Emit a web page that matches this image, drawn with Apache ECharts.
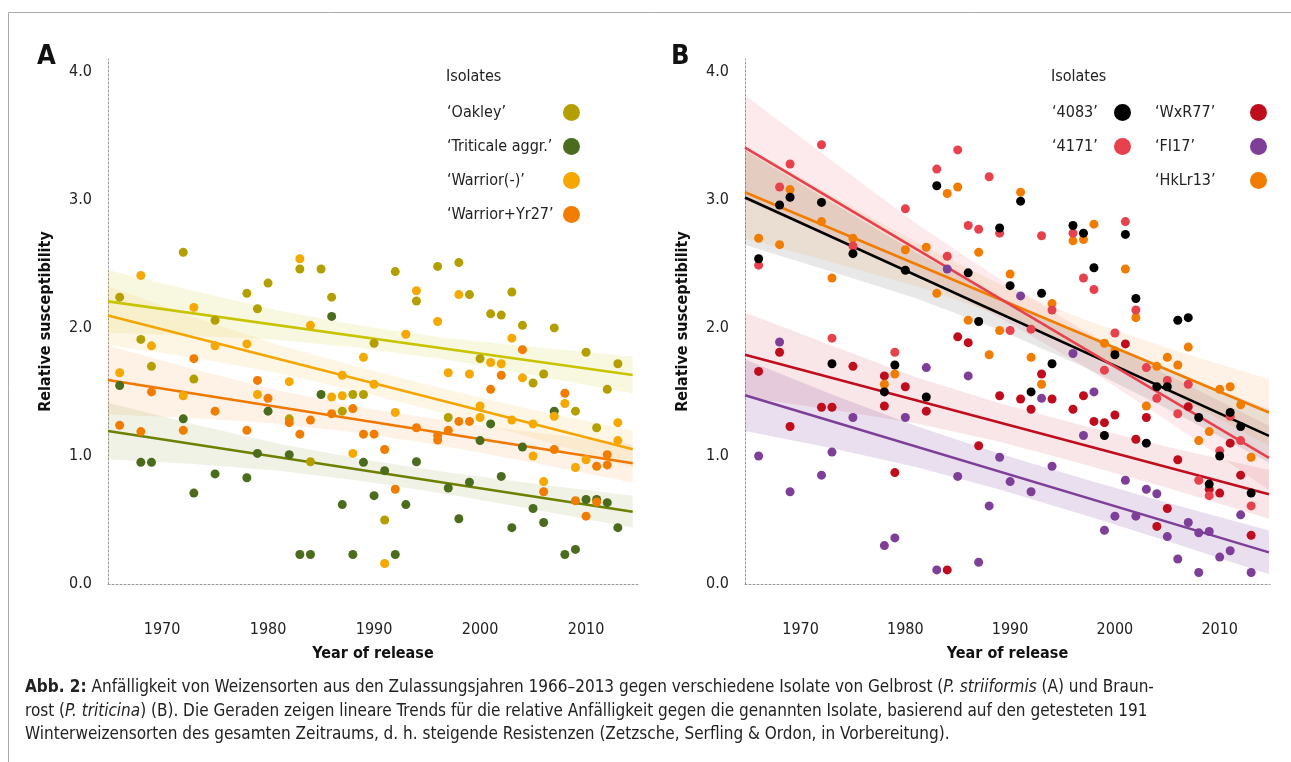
<!DOCTYPE html>
<html lang="de" style="height: 100%">
<head>
  <meta charset="utf-8">
  <title>Relative susceptibility</title>
</head>
<body style="height: 100%; margin: 0; background: #fff">
  <div id="container" style="width: 1291px; height: 762px"></div>

  <script type="text/javascript" src="https://cdn.jsdelivr.net/npm/echarts@6.0.0/dist/echarts.min.js"></script>

  <script type="text/javascript">
    var FONT = "'Liberation Sans Narrow', 'DejaVu Sans Condensed', 'Liberation Sans', sans-serif";

    // ---- Panel A: yellow rust isolates, [year of release, relative susceptibility]
    var oakley = [[1966,2.24],[1978,2.27],[1980,2.35],[1983,2.46],[1985,2.46],[1986,2.24],[1979,2.15],[1975,2.06],
      [1990,1.88],[1968,1.91],[1969,1.70],[1973,1.60],[1988,1.48],[1989,1.48],[1987,1.35],[1982,1.29],[1984,0.955],
      [1972,2.59],[1992,2.44],[1996,2.48],[1998,2.51],[1994,2.21],[1999,2.26],[2003,2.28],[2001,2.11],[2002,2.10],
      [2004,2.02],[2007,2.00],[2010,1.81],[2000,1.76],[2013,1.72],[2006,1.64],[2005,1.57],[2012,1.52],[2009,1.35],
      [1997,1.30],[2011,1.22],[1991,0.50]];
    var triticale = [[1986,2.09],[1966,1.55],[1985,1.48],[1980,1.35],[1972,1.29],[1968,0.95],[1969,0.95],[1979,1.02],
      [1982,1.01],[1989,0.95],[1975,0.86],[1978,0.83],[1973,0.71],[1987,0.62],[1990,0.69],[1983,0.23],[1984,0.23],
      [1988,0.23],[2001,1.25],[2000,1.12],[2004,1.07],[1994,0.955],[1991,0.885],[1993,0.62],[1997,0.75],[1999,0.795],
      [2002,0.84],[2010,0.66],[2011,0.66],[2012,0.635],[2005,0.59],[2006,0.48],[2003,0.44],[2013,0.44],[1998,0.51],
      [1992,0.23],[2008,0.23],[2009,0.27],[2007,1.35]];
    var warrior = [[1968,2.41],[1983,2.54],[1973,2.16],[1984,2.02],[1969,1.86],[1975,1.86],[1978,1.875],[1989,1.77],
      [1966,1.65],[1987,1.63],[1990,1.56],[1972,1.47],[1979,1.48],[1982,1.58],[1986,1.46],[1987,1.47],[1988,1.02],
      [1994,2.29],[1998,2.26],[1996,2.05],[1993,1.95],[2003,1.92],[2001,1.73],[2002,1.72],[1997,1.65],[1999,1.64],
      [2004,1.61],[2008,1.41],[1992,1.34],[2007,1.31],[2000,1.39],[2000,1.30],[2003,1.28],[2005,1.25],[2013,1.26],
      [2013,1.12],[2005,1.00],[2010,0.97],[2009,0.91],[2006,0.80],[1991,0.16]];
    var warriorYr27 = [[1973,1.76],[1969,1.50],[1979,1.59],[1980,1.45],[1975,1.35],[1988,1.37],[1982,1.26],[1984,1.28],
      [1986,1.33],[1966,1.24],[1968,1.19],[1972,1.20],[1978,1.20],[1983,1.17],[1989,1.17],[1990,1.17],[2004,1.83],
      [2002,1.63],[2001,1.52],[2008,1.49],[1998,1.27],[1999,1.27],[1994,1.22],[1996,1.16],[1996,1.125],[1997,1.20],
      [2007,1.05],[1991,1.05],[2012,1.01],[2012,0.93],[2011,0.92],[1992,0.74],[2006,0.72],[2009,0.65],[2011,0.64],
      [2010,0.53]];

    // ---- Panel B: leaf rust isolates
    var i4083 = [[1969,3.02],[1968,2.96],[1972,2.98],[1966,2.54],[1975,2.58],[1980,2.45],[1983,3.11],[1986,2.43],
      [1989,2.78],[1990,2.33],[1987,2.05],[1991,2.99],[1996,2.80],[1997,2.74],[2001,2.73],[1998,2.47],[1993,2.27],
      [2002,2.23],[2006,2.06],[2007,2.08],[2000,1.79],[1994,1.72],[1992,1.50],[2004,1.54],[2005,1.54],[2008,1.30],
      [2011,1.34],[2012,1.23],[2010,1.00],[1999,1.16],[2003,1.10],[2009,0.78],[2013,0.71],[1973,1.72],[1979,1.71],
      [1978,1.50],[1982,1.46]];
    var i4171 = [[1972,3.43],[1969,3.28],[1968,3.10],[1966,2.49],[1975,2.64],[1980,2.93],[1984,2.56],[1983,3.24],
      [1985,3.39],[1988,3.18],[1986,2.80],[1987,2.77],[1989,2.74],[1990,1.98],[1993,2.72],[1996,2.74],[2001,2.83],
      [1997,2.39],[1998,2.30],[1994,2.14],[2002,2.14],[2000,1.96],[1999,1.67],[2003,1.69],[2005,1.59],[2007,1.56],
      [2004,1.45],[2006,1.33],[2011,1.31],[2012,1.12],[2010,1.04],[2008,0.81],[2009,0.69],[2013,0.61],[1973,1.92],
      [1979,1.81],[1992,1.99]];
    var wxr77 = [[1968,1.81],[1966,1.66],[1975,1.70],[1978,1.625],[1980,1.54],[1978,1.39],[1982,1.35],[1972,1.38],
      [1973,1.38],[1969,1.23],[1985,1.93],[1986,1.885],[1989,1.47],[1987,1.08],[1979,0.87],[1984,0.11],[2001,1.875],
      [1993,1.64],[1991,1.445],[1994,1.445],[1997,1.47],[1992,1.365],[1996,1.365],[1998,1.27],[1999,1.26],[2000,1.32],
      [2002,1.13],[2003,1.30],[2007,1.385],[2006,0.97],[2009,0.74],[2010,0.71],[2012,0.85],[2011,1.10],[2013,0.38],
      [2005,0.59],[2004,0.45]];
    var fi17 = [[1968,1.89],[1984,2.46],[1991,2.25],[1996,1.80],[1998,1.50],[1982,1.69],[1986,1.625],[1975,1.30],
      [1980,1.30],[1993,1.45],[1966,1.00],[1973,1.03],[1989,0.99],[1972,0.85],[1985,0.84],[1990,0.80],[1969,0.72],
      [1988,0.61],[1978,0.30],[1979,0.36],[1987,0.17],[1983,0.11],[1992,0.72],[1994,0.92],[1997,1.16],[2001,0.81],
      [2003,0.74],[2004,0.705],[2000,0.53],[2002,0.53],[1999,0.42],[2007,0.48],[2008,0.40],[2009,0.41],[2011,0.26],
      [2010,0.21],[2006,0.195],[2008,0.09],[2013,0.09],[2005,0.37],[2012,0.54]];
    var hklr13 = [[1969,3.08],[1972,2.83],[1966,2.70],[1968,2.65],[1975,2.70],[1980,2.61],[1982,2.63],[1973,2.39],
      [1983,2.27],[1984,3.05],[1985,3.10],[1987,2.59],[1990,2.42],[1986,2.06],[1989,1.98],[1988,1.79],[1991,3.06],
      [1998,2.81],[1996,2.68],[1997,2.69],[2001,2.46],[2002,2.08],[1994,2.19],[1992,1.77],[1993,1.56],[1999,1.88],
      [2000,1.82],[2005,1.77],[2006,1.71],[2004,1.70],[2007,1.85],[2010,1.52],[2011,1.54],[2003,1.39],[2012,1.40],
      [2009,1.19],[2008,1.12],[2013,0.99],[1979,1.64],[1978,1.56]];

    // ---- linear trends (ends) and confidence bands
    var trendOakley = [[1964.9, 2.207], [2014.4, 1.632]];
    var trendTriticale = [[1964.9, 1.195], [2014.4, 0.564]];
    var trendWarrior = [[1964.9, 2.097], [2014.4, 1.053]];
    var trendWarriorYr27 = [[1964.9, 1.593], [2014.4, 0.943]];
    var bandYearsA = [1964.9, 1973, 1981, 1989, 1997, 2005, 2014.4];
    var bandOakleyLo = [1.962, 1.938, 1.905, 1.842, 1.749, 1.631, 1.487];
    var bandOakleyHi = [2.452, 2.288, 2.135, 2.012, 1.919, 1.851, 1.777];
    var bandWarriorLo = [1.867, 1.766, 1.647, 1.494, 1.325, 1.141, 0.908];
    var bandWarriorHi = [2.327, 2.086, 1.867, 1.684, 1.515, 1.361, 1.198];
    var bandYr27Lo = [1.323, 1.297, 1.252, 1.177, 1.072, 0.946, 0.793];
    var bandYr27Hi = [1.863, 1.677, 1.512, 1.377, 1.272, 1.186, 1.093];
    var bandTriticaleLo = [0.975, 0.937, 0.885, 0.803, 0.701, 0.584, 0.439];
    var bandTriticaleHi = [1.415, 1.247, 1.095, 0.973, 0.871, 0.784, 0.689];

    var trend4083 = [[1964.7, 3.018], [2014.7, 1.157]];
    var trend4171 = [[1964.7, 3.407], [2014.7, 0.985]];
    var trendHkLr13 = [[1964.7, 3.059], [2014.7, 1.339]];
    var trendWxR77 = [[1964.7, 1.791], [2014.7, 0.700]];
    var trendFI17 = [[1964.7, 1.474], [2014.7, 0.247]];
    var bandYearsB = [1964.7, 1973, 1981, 1989, 1997, 2005, 2014.7];
    var band4083Lo = [2.648, 2.439, 2.231, 1.984, 1.696, 1.368, 0.947];
    var band4083Hi = [3.388, 2.979, 2.591, 2.244, 1.936, 1.668, 1.367];
    var band4171Lo = [2.997, 2.705, 2.417, 2.080, 1.702, 1.275, 0.735];
    var band4171Hi = [3.817, 3.305, 2.817, 2.380, 1.982, 1.635, 1.235];
    var bandHkLr13Lo = [2.699, 2.513, 2.328, 2.103, 1.828, 1.503, 1.079];
    var bandHkLr13Hi = [3.419, 3.033, 2.668, 2.343, 2.068, 1.843, 1.599];
    var bandWxR77Lo = [1.461, 1.360, 1.255, 1.111, 0.936, 0.752, 0.510];
    var bandWxR77Hi = [2.121, 1.860, 1.615, 1.411, 1.236, 1.072, 0.890];
    var bandFI17Lo = [1.194, 1.060, 0.914, 0.738, 0.541, 0.335, 0.077];
    var bandFI17Hi = [1.754, 1.480, 1.234, 1.018, 0.821, 0.635, 0.417];

    var yearTicks = [1970, 1980, 1990, 2000, 2010];

    var dom = document.getElementById('container');
    var myChart = echarts.init(dom, null, { renderer: 'canvas' });

    // confidence band drawn as a polygon through the axis scales
    function band(idx, years, lo, hi, fill) {
      return {
        type: 'custom', xAxisIndex: idx, yAxisIndex: idx, silent: true, z: 1,
        data: [0],
        renderItem: function (params, api) {
          var pts = [];
          for (var i = 0; i < years.length; i++) pts.push(api.coord([years[i], hi[i]]));
          for (var j = years.length - 1; j >= 0; j--) pts.push(api.coord([years[j], lo[j]]));
          return { type: 'polygon', shape: { points: pts }, style: { fill: fill } };
        }
      };
    }
    function trend(idx, data, color) {
      return {
        type: 'line', xAxisIndex: idx, yAxisIndex: idx, data: data, silent: true, z: 2,
        symbol: 'none', lineStyle: { color: color, width: 2.6 }
      };
    }
    function dots(idx, name, data, color) {
      return {
        type: 'scatter', name: name, xAxisIndex: idx, yAxisIndex: idx, data: data, z: 3,
        symbolSize: 9, itemStyle: { color: color, opacity: 1 }
      };
    }
    function xAxis(idx, min, max) {
      return {
        type: 'value', gridIndex: idx, min: min, max: max,
        name: 'Year of release', nameLocation: 'middle', nameGap: 62,
        nameTextStyle: { fontSize: 16, fontWeight: 'bold', color: '#111', fontFamily: FONT },
        axisLine: { show: true, lineStyle: { color: '#999', type: [2, 2] } },
        axisTick: { show: false }, splitLine: { show: false },
        axisLabel: { customValues: yearTicks, margin: 38, fontSize: 16, color: '#222', fontFamily: FONT,
          formatter: function (v) { return String(v); } }
      };
    }
    function yAxis(idx) {
      return {
        type: 'value', gridIndex: idx, min: 0, max: 4.1, interval: 1,
        name: 'Relative susceptibility', nameLocation: 'middle', nameGap: 54,
        nameTextStyle: { fontSize: 16, fontWeight: 'bold', color: '#111', fontFamily: FONT },
        axisLine: { show: true, lineStyle: { color: '#999', type: [2, 2] } },
        axisTick: { show: false }, splitLine: { show: false },
        axisLabel: { margin: 16, fontSize: 16, color: '#222', fontFamily: FONT,
          formatter: function (v) { return v.toFixed(1); } }
      };
    }
    function legend(names, left, textWidth) {
      return {
        data: names, left: left, top: 99, orient: 'vertical', align: 'right',
        icon: 'circle', itemWidth: 17, itemHeight: 17, itemGap: 17, selectedMode: false,
        formatter: '{t|{name}}',
        textStyle: { rich: { t: { width: textWidth, align: 'left', lineHeight: 17,
          fontSize: 16, color: '#222', fontFamily: FONT } } }
      };
    }

    var capN = { fontSize: 17, fontWeight: 'normal', color: '#222', fontFamily: FONT, lineHeight: 23.5 };
    var caption =
      '{b|Abb. 2:}{n| Anfälligkeit von Weizensorten aus den Zulassungsjahren 1966–2013 gegen verschiedene Isolate von Gelbrost (}{i|P. striiformis}{n| (A) und Braun-}\n' +
      '{n|rost (}{i|P. triticina}{n|) (B). Die Geraden zeigen lineare Trends für die relative Anfälligkeit gegen die genannten Isolate, basierend auf den getesteten 191}\n' +
      '{n|Winterweizensorten des gesamten Zeitraums, d. h. steigende Resistenzen (Zetzsche, Serfling & Ordon, in Vorbereitung).}';

    var option = {
      animation: false,
      textStyle: { fontFamily: FONT },
      title: [
        { text: 'A', left: 32, top: 38, textStyle: { fontSize: 27, fontWeight: 'bold', color: '#111', fontFamily: FONT } },
        { text: 'B', left: 666, top: 38, textStyle: { fontSize: 27, fontWeight: 'bold', color: '#111', fontFamily: FONT } },
        { text: 'Isolates', left: 441, top: 64, textStyle: { fontSize: 16, fontWeight: 'normal', color: '#222', fontFamily: FONT } },
        { text: 'Isolates', left: 1046, top: 64, textStyle: { fontSize: 16, fontWeight: 'normal', color: '#222', fontFamily: FONT } },
        { text: caption, left: 25, top: 676, padding: 0,
          textStyle: { fontWeight: 'normal', rich: {
            n: capN,
            b: Object.assign({}, capN, { fontWeight: 'bold' }),
            i: Object.assign({}, capN, { fontStyle: 'italic' })
          } } }
      ],
      legend: [
        legend(['‘Oakley’', '‘Triticale aggr.’', '‘Warrior(-)’', '‘Warrior+Yr27’'], 442, 111),
        legend(['‘4083’', '‘4171’'], 1047, 57),
        legend(['‘WxR77’', '‘FI17’', '‘HkLr13’'], 1150, 90)
      ],
      graphic: [{
        type: 'rect', silent: true, z: -1,
        shape: { x: 8.5, y: 12.5, width: 1300, height: 780 },
        style: { fill: 'none', stroke: '#aaa', lineWidth: 1 }
      }],
      grid: [
        { left: 108, top: 59, width: 530, height: 525 },
        { left: 745, top: 59, width: 525, height: 525 }
      ],
      xAxis: [xAxis(0, 1964.9, 2014.9), xAxis(1, 1964.7, 2014.8)],
      yAxis: [yAxis(0), yAxis(1)],
      series: [
        band(0, bandYearsA, bandOakleyLo, bandOakleyHi, 'rgba(200,196,0,0.12)'),
        band(0, bandYearsA, bandWarriorLo, bandWarriorHi, 'rgba(245,168,0,0.1)'),
        band(0, bandYearsA, bandYr27Lo, bandYr27Hi, 'rgba(240,124,0,0.1)'),
        band(0, bandYearsA, bandTriticaleLo, bandTriticaleHi, 'rgba(110,128,0,0.1)'),
        trend(0, trendOakley, '#c8c400'),
        trend(0, trendWarrior, '#f5a500'),
        trend(0, trendWarriorYr27, '#f07800'),
        trend(0, trendTriticale, '#6e8000'),
        dots(0, '‘Oakley’', oakley, '#b3a000'),
        dots(0, '‘Triticale aggr.’', triticale, '#4b6c1d'),
        dots(0, '‘Warrior(-)’', warrior, '#f5a800'),
        dots(0, '‘Warrior+Yr27’', warriorYr27, '#f07d00'),

        band(1, bandYearsB, band4171Lo, band4171Hi, 'rgba(232,65,78,0.11)'),
        band(1, bandYearsB, band4083Lo, band4083Hi, 'rgba(0,0,0,0.09)'),
        band(1, bandYearsB, bandHkLr13Lo, bandHkLr13Hi, 'rgba(240,128,0,0.1)'),
        band(1, bandYearsB, bandWxR77Lo, bandWxR77Hi, 'rgba(192,13,30,0.1)'),
        band(1, bandYearsB, bandFI17Lo, bandFI17Hi, 'rgba(125,63,152,0.17)'),
        trend(1, trend4083, '#000000'),
        trend(1, trendHkLr13, '#f07d00'),
        trend(1, trend4171, '#e8414e'),
        trend(1, trendWxR77, '#c00d1e'),
        trend(1, trendFI17, '#7d3f98'),
        dots(1, '‘FI17’', fi17, '#7d3f98'),
        dots(1, '‘WxR77’', wxr77, '#c00d1e'),
        dots(1, '‘HkLr13’', hklr13, '#f07d00'),
        dots(1, '‘4171’', i4171, '#e8414e'),
        dots(1, '‘4083’', i4083, '#000000')
      ]
    };

    myChart.setOption(option);

    window.addEventListener('resize', function () {
      myChart.resize();
    });
  </script>
</body>
</html>
